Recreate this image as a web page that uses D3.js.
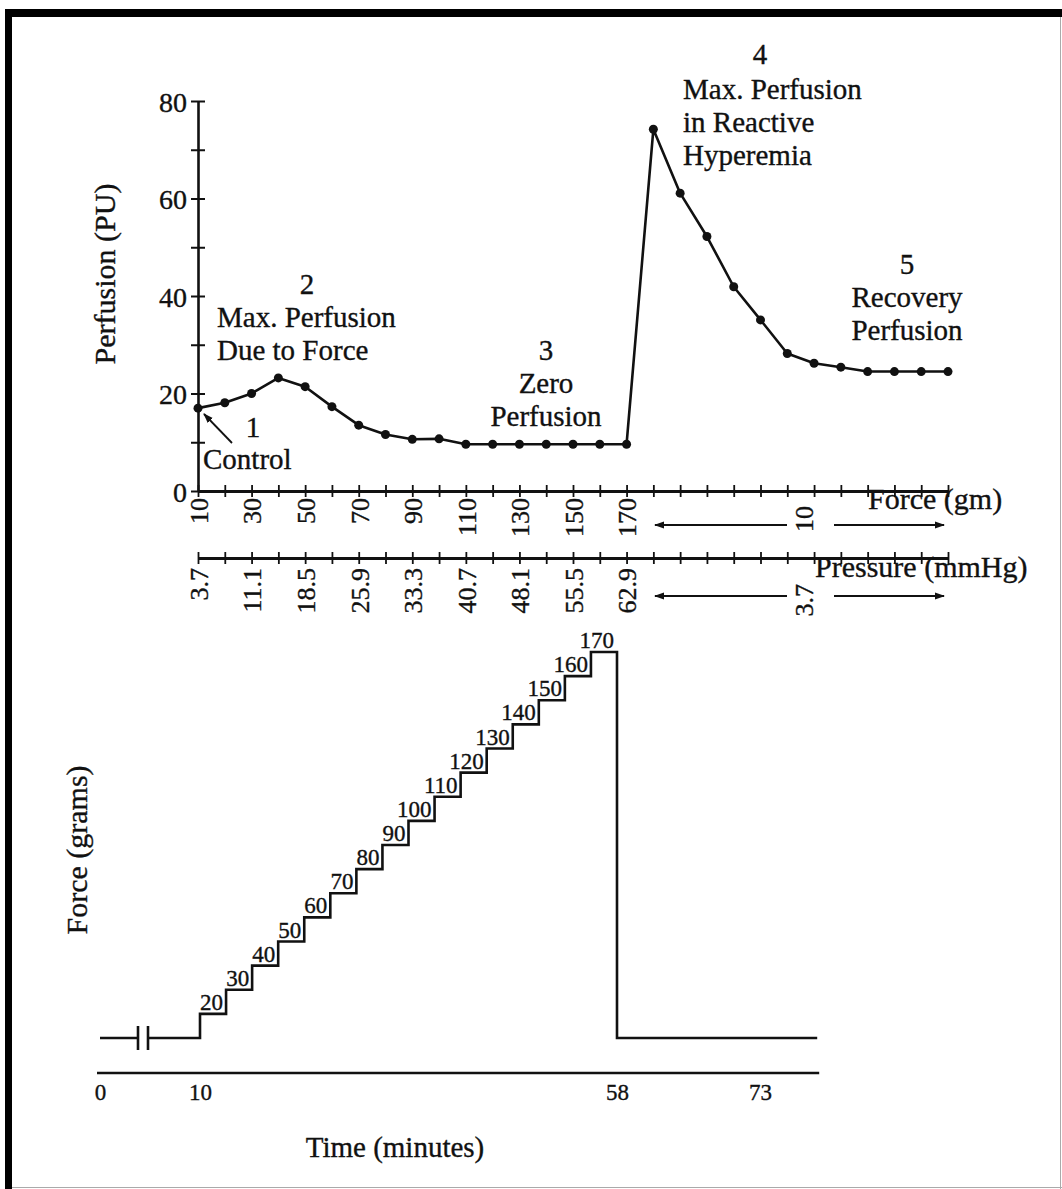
<!DOCTYPE html>
<html>
<head>
<meta charset="utf-8">
<script src="https://cdn.jsdelivr.net/npm/d3@7"></script>
<style>
  html, body { margin: 0; padding: 0; background: #fff; }
  svg { display: block; }
  text { font-family: "Liberation Serif", "Times New Roman", serif; fill: #111; stroke: #111; stroke-width: 0.35px; }
</style>
</head>
<body>
<svg id="fig" width="1062" height="1189"></svg>
<script>
// ---- Top panel: perfusion at each loading step, then release / recovery ----
const perfusion = [17.0, 18.1, 20.0, 23.2, 21.4, 17.3, 13.5, 11.6, 10.6, 10.7,
                   9.6, 9.6, 9.6, 9.6, 9.6, 9.6, 9.6,
                   74.2, 61.1, 52.2, 41.9, 35.1, 28.2, 26.2, 25.4, 24.5, 24.5, 24.5, 24.5];
const perfusionTicks = [0, 10, 20, 30, 40, 50, 60, 70, 80];
const forceLabelSteps = [0, 2, 4, 6, 8, 10, 12, 14, 16];
const forceTickLabels = ["10", "30", "50", "70", "90", "110", "130", "150", "170"];
const pressureTickLabels = ["3.7", "11.1", "18.5", "25.9", "33.3", "40.7", "48.1", "55.5", "62.9"];

// ---- Bottom panel: applied force versus time ----
const stepStart = [10, 13, 16, 19, 22, 25, 28, 31, 34, 37, 40, 43, 46, 49, 52, 55];
const stepForce = [20, 30, 40, 50, 60, 70, 80, 90, 100, 110, 120, 130, 140, 150, 160, 170];
const releaseTime = 58;
const endTime = 79;
const baseForce = 10;
const timeTicks = [0, 10, 58, 73];

const svg = d3.select("#fig");
const ink = "#111";

// frame
svg.append("rect").attr("x", 0).attr("y", 0).attr("width", 1062).attr("height", 1189).attr("fill", "#fff");
svg.append("rect").attr("x", 5).attr("y", 9).attr("width", 1057).attr("height", 8).attr("fill", "#000");
svg.append("rect").attr("x", 5).attr("y", 9).attr("width", 7).attr("height", 1180).attr("fill", "#000");
svg.append("line").attr("x1", 1060.5).attr("x2", 1060.5).attr("y1", 17).attr("y2", 1189).attr("stroke", "#aaa");
svg.append("line").attr("x1", 12).attr("x2", 1062).attr("y1", 1187.5).attr("y2", 1187.5).attr("stroke", "#aaa");

// arrowhead marker
const defs = svg.append("defs");
defs.append("marker").attr("id", "head")
  .attr("viewBox", "0 0 10 10").attr("refX", 9).attr("refY", 5)
  .attr("markerWidth", 10).attr("markerHeight", 10).attr("markerUnits", "userSpaceOnUse")
  .attr("orient", "auto")
  .append("path").attr("d", "M0,1.5 L10,5 L0,8.5 Z").attr("fill", ink);

// ================= top panel =================
const x = d3.scaleLinear().domain([0, perfusion.length - 1]).range([198, 948]);
const y = d3.scaleLinear().domain([0, 80]).range([491, 101]);

// perfusion axis
const yAxis = svg.append("g").attr("transform", `translate(${x(0)},0)`)
  .call(d3.axisLeft(y).tickValues(perfusionTicks).tickSizeInner(7).tickSizeOuter(0).tickPadding(4)
    .tickFormat(d => d % 20 === 0 ? d : ""))
  .attr("font-size", 28);
yAxis.select(".domain").attr("stroke", ink).attr("stroke-width", 2.6);
yAxis.selectAll(".tick line").attr("x1", 7).attr("x2", -7).attr("stroke", ink).attr("stroke-width", 2);
yAxis.selectAll(".tick text").attr("dy", "0.36em");

// force axis (gm) and pressure axis (mmHg)
function indexAxis(yPos, labels, gap) {
  const g = svg.append("g").attr("transform", `translate(0,${yPos})`)
    .call(d3.axisBottom(x).tickValues(d3.range(perfusion.length)).tickSizeOuter(0).tickSizeInner(6)
      .tickFormat(i => {
        const k = forceLabelSteps.indexOf(i);
        return k >= 0 ? labels[k] : "";
      }))
    .attr("font-size", 26);
  g.select(".domain").attr("stroke", ink).attr("stroke-width", 2.8);
  g.selectAll(".tick line").attr("y1", -6).attr("y2", 6).attr("stroke", ink).attr("stroke-width", 1.8);
  g.selectAll(".tick text")
    .attr("transform", "rotate(-90)")
    .attr("x", -gap).attr("y", 0).attr("dy", "0.36em")
    .style("text-anchor", "end");
  return g;
}
indexAxis(y(0), forceTickLabels, 7);
indexAxis(558, pressureTickLabels, 10);

// axis names
svg.append("text").attr("x", 868).attr("y", 509).attr("font-size", 30).text("Force (gm)");
svg.append("text").attr("x", 815).attr("y", 577).attr("font-size", 30).text("Pressure (mmHg)");
svg.append("text").attr("transform", "translate(115,274) rotate(-90)")
  .attr("text-anchor", "middle").attr("font-size", 30).text("Perfusion (PU)");

// release-phase notes: force back to 10 gm / 3.7 mmHg
function releaseNote(label, top, arrowY) {
  svg.append("text").attr("transform", `translate(804,${top}) rotate(-90)`)
    .attr("dy", "0.36em").attr("text-anchor", "end").attr("font-size", 26).text(label);
  svg.append("line").attr("x1", 787).attr("x2", 655).attr("y1", arrowY).attr("y2", arrowY)
    .attr("stroke", ink).attr("stroke-width", 2).attr("marker-end", "url(#head)");
  svg.append("line").attr("x1", 834).attr("x2", 944).attr("y1", arrowY).attr("y2", arrowY)
    .attr("stroke", ink).attr("stroke-width", 2).attr("marker-end", "url(#head)");
}
releaseNote("10", 506, 525);
releaseNote("3.7", 584, 596);

// perfusion trace
svg.append("path").datum(perfusion)
  .attr("d", d3.line().x((d, i) => x(i)).y(d => y(d)))
  .attr("fill", "none").attr("stroke", ink).attr("stroke-width", 2.6).attr("stroke-linejoin", "round");
svg.append("g").selectAll("circle").data(perfusion).join("circle")
  .attr("cx", (d, i) => x(i)).attr("cy", d => y(d)).attr("r", 4.5).attr("fill", ink);

// phase annotations
function block(lines, xPos, y0, anchor, size) {
  const t = svg.append("text").attr("font-size", size).attr("text-anchor", anchor);
  lines.forEach((s, k) => t.append("tspan").attr("x", xPos).attr("y", y0 + k * 33).text(s));
}
block(["1"], 253, 437, "middle", 29);
block(["Control"], 203, 469, "start", 29);
svg.append("line").attr("x1", 232).attr("y1", 443).attr("x2", 204).attr("y2", 414)
  .attr("stroke", ink).attr("stroke-width", 1.8).attr("marker-end", "url(#head)");

block(["2"], 307, 294, "middle", 29);
block(["Max. Perfusion", "Due to Force"], 217, 327, "start", 29);

block(["3", "Zero", "Perfusion"], 546, 360, "middle", 29);

block(["4"], 760, 64, "middle", 29);
block(["Max. Perfusion", "in Reactive", "Hyperemia"], 683, 99, "start", 29);

block(["5", "Recovery", "Perfusion"], 907, 274, "middle", 29);

// ================= bottom panel =================
const tx = d3.scaleLinear().domain([0, 10, 58, 73]).range([100, 200, 617, 760]);
const fy = d3.scaleLinear().domain([10, 170]).range([1038, 652]);

const forceTrace = [{ t: 0, f: baseForce }]
  .concat(stepStart.map((t, i) => ({ t: t, f: stepForce[i] })))
  .concat([{ t: releaseTime, f: baseForce }, { t: endTime, f: baseForce }]);

svg.append("path").datum(forceTrace)
  .attr("d", d3.line().x(d => tx(d.t)).y(d => fy(d.f)).curve(d3.curveStepAfter))
  .attr("fill", "none").attr("stroke", ink).attr("stroke-width", 2.6);

// axis break on the baseline
svg.append("rect").attr("x", 138).attr("y", fy(baseForce) - 4).attr("width", 10).attr("height", 8).attr("fill", "#fff");
[138, 148].forEach(bx => svg.append("line")
  .attr("x1", bx).attr("x2", bx).attr("y1", fy(baseForce) - 12).attr("y2", fy(baseForce) + 12)
  .attr("stroke", ink).attr("stroke-width", 2.6));

// step labels, sitting on each tread against the next riser
const stepEnds = stepStart.slice(1).concat([releaseTime]);
svg.append("g").selectAll("text").data(stepForce).join("text")
  .attr("x", (d, i) => tx(stepEnds[i]) - 3)
  .attr("y", d => fy(d) - 4)
  .attr("text-anchor", "end").attr("font-size", 23)
  .text(d => d);

// time axis
const tAxis = svg.append("g").attr("transform", "translate(0,1073)")
  .call(d3.axisBottom(tx).tickValues(timeTicks).tickSize(0).tickPadding(11).tickFormat(d => d))
  .attr("font-size", 23);
tAxis.select(".domain").remove();
svg.append("line").attr("x1", tx(0) - 3).attr("x2", tx(endTime) + 2).attr("y1", 1073).attr("y2", 1073)
  .attr("stroke", ink).attr("stroke-width", 2.6);

svg.append("text").attr("x", 395).attr("y", 1157).attr("text-anchor", "middle").attr("font-size", 29)
  .text("Time (minutes)");
svg.append("text").attr("transform", "translate(87,850) rotate(-90)")
  .attr("text-anchor", "middle").attr("font-size", 30).text("Force (grams)");
</script>
</body>
</html>
